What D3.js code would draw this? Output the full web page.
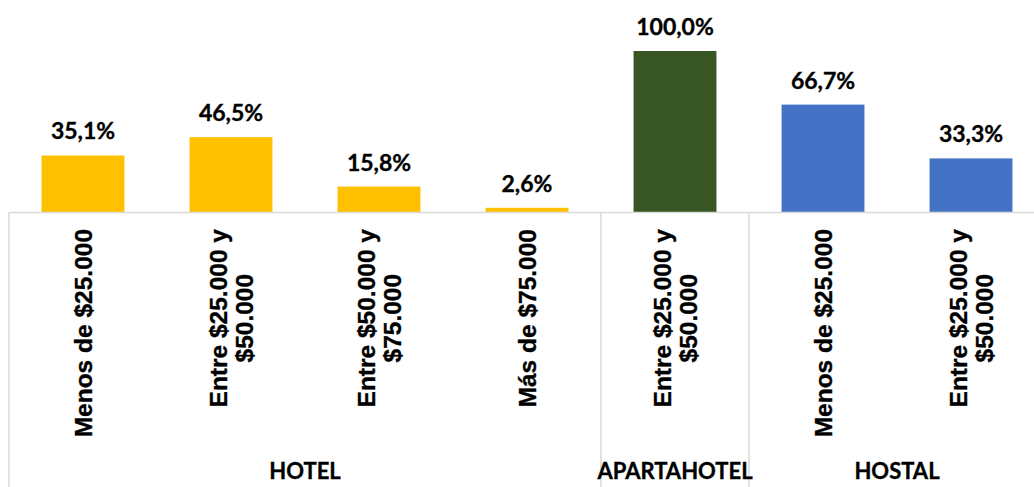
<!DOCTYPE html>
<html>
<head>
<meta charset="utf-8">
<script src="https://cdn.jsdelivr.net/npm/d3@7"></script>
<style>
  html, body { margin: 0; padding: 0; background: #fff; }
  svg { display: block; font-family: "Century Gothic", Lato, "Open Sans", sans-serif; font-weight: bold; }
  .lbl { stroke: #000; stroke-width: 0.35px; }
</style>
</head>
<body>
<svg id="chart" width="1034" height="487"></svg>
<script>
// ---- data ----
const groups = ["HOTEL", "HOTEL", "HOTEL", "HOTEL", "APARTAHOTEL", "HOSTAL", "HOSTAL"];
const categories = [
  "Menos de $25.000",
  "Entre $25.000 y\n$50.000",
  "Entre $50.000 y\n$75.000",
  "Más de $75.000",
  "Entre $25.000 y\n$50.000",
  "Menos de $25.000",
  "Entre $25.000 y\n$50.000"
];
const values = [35.1, 46.5, 15.8, 2.6, 100.0, 66.7, 33.3];
const groupNames = ["HOTEL", "APARTAHOTEL", "HOSTAL"];
const groupColors = ["#FFC000", "#375623", "#4472C4"];

// ---- layout ----
const svg = d3.select("#chart");
const left = 9, right = 1045, baseY = 212, topY = 51, bottomY = 487;

const idx = categories.map((d, i) => i);
const x = d3.scaleBand().domain(idx).range([left, right]).paddingInner(0.44).paddingOuter(0.22);
const y = d3.scaleLinear().domain([0, 100]).range([baseY, topY]);
const color = d3.scaleOrdinal().domain(groupNames).range(groupColors);
const fmt = v => d3.format(".1f")(v).replace(".", ",") + "%";

// bars
svg.append("g").selectAll("rect").data(values).join("rect")
  .attr("x", (d, i) => x(i))
  .attr("width", x.bandwidth())
  .attr("y", d => y(d))
  .attr("height", d => y(0) - y(d))
  .attr("fill", (d, i) => color(groups[i]));

// value labels
svg.append("g").selectAll("text").data(values).join("text")
  .attr("class", "lbl")
  .attr("x", (d, i) => x(i) + x.bandwidth() / 2)
  .attr("y", d => y(d) - 16)
  .attr("text-anchor", "middle")
  .attr("font-size", 23)
  .attr("fill", "#000")
  .text(d => fmt(d));

// axis
const axis = d3.axisBottom(x).tickSize(0).tickSizeOuter(0).tickFormat(i => categories[i]);
const gAxis = svg.append("g").attr("transform", `translate(0,${baseY})`).call(axis);
gAxis.select(".domain").attr("stroke", "#d9d9d9").attr("stroke-width", 1.5);

// multiline rotated category labels, top-aligned, lines centered
gAxis.selectAll(".tick text").each(function(i) {
  const t = d3.select(this);
  const lines = categories[i].split("\n");
  t.text(null)
    .attr("class", "lbl")
    .attr("font-size", 24.5)
    .attr("fill", "#000")
    .attr("font-family", null)
    .attr("text-anchor", "middle")
    .attr("dy", null)
    .attr("y", 0);
  const n = lines.length;
  lines.forEach((ln, k) => {
    t.append("tspan")
      .attr("x", 0)
      .attr("y", (k - (n - 1) / 2) * 26)
      .attr("dy", "0.35em")
      .text(ln);
  });
  let maxLen = 0;
  t.selectAll("tspan").each(function() { maxLen = Math.max(maxLen, this.getComputedTextLength()); });
  t.attr("transform", `translate(0,${17 + maxLen / 2}) rotate(-90)`);
});

// group separators and labels
const grpExtents = groupNames.map(g => {
  const ids = idx.filter(i => groups[i] === g);
  const s = x.step();
  const x0 = x(ids[0]) - x.paddingInner() * s / 2;
  const x1 = x(ids[ids.length - 1]) + x.bandwidth() + x.paddingInner() * s / 2;
  return { g, x0, x1 };
});

svg.append("g").selectAll("line").data(grpExtents).join("line")
  .attr("x1", d => d.x0).attr("x2", d => d.x0)
  .attr("y1", baseY).attr("y2", bottomY)
  .attr("stroke", "#d9d9d9").attr("stroke-width", 1.5);

svg.append("g").selectAll("text").data(grpExtents).join("text")
  .attr("class", "lbl")
  .attr("x", d => (d.x0 + d.x1) / 2)
  .attr("y", 479)
  .attr("text-anchor", "middle")
  .attr("font-size", 22)
  .attr("fill", "#000")
  .text(d => d.g);
</script>
</body>
</html>
